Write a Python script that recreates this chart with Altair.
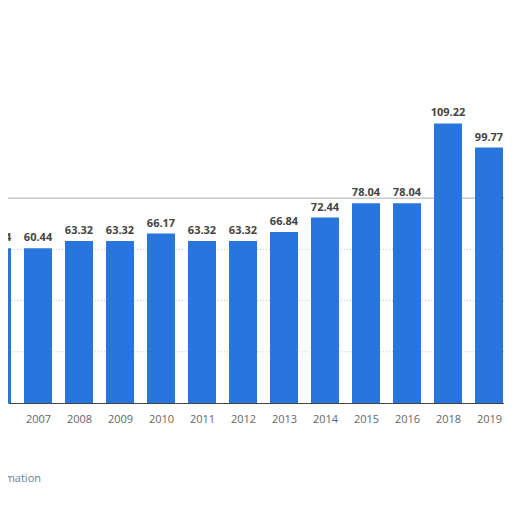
import altair as alt
import pandas as pd

years = ["2006", "2007", "2008", "2009", "2010", "2011", "2012",
         "2013", "2014", "2015", "2016", "2018", "2019"]
values = [60.44, 60.44, 63.32, 63.32, 66.17, 63.32, 63.32,
          66.84, 72.44, 78.04, 78.04, 109.22, 99.77]
grid_values = [20, 40, 60]
frame_value = [80]
footer = ["Additional Information"]

df = pd.DataFrame({
    "i": list(range(len(years))),
    "year": years,
    "v": values,
    "label": [f"{v:.2f}" for v in values],
})

label_expr = "[" + ",".join(f"'{y}'" for y in years) + "][datum.value]"

xscale = alt.Scale(domain=[0.268, 12.366], nice=False, zero=False, padding=0)
yscale = alt.Scale(domain=[0, 154.3], nice=False)

x_enc = alt.X(
    "i:Q", scale=xscale,
    axis=alt.Axis(values=list(range(len(years))), labelExpr=label_expr,
                  ticks=False, grid=False, domainColor="#444444", domainWidth=1,
                  labelFlush=False, labelOverlap=False, labelColor="#666666",
                  labelFont="Open Sans", labelFontSize=11,
                  labelBaseline="alphabetic", labelPadding=19, title=None),
)

base = alt.Chart(df)

grid = alt.Chart(pd.DataFrame({"g": grid_values})).mark_rule(
    color="#c4c4c4", strokeDash=[1, 2], strokeWidth=1
).encode(y=alt.Y("g:Q", scale=yscale, axis=None))

frame = alt.Chart(pd.DataFrame({"g": frame_value})).mark_rule(
    color="#c8c8c8", strokeWidth=1.5
).encode(y=alt.Y("g:Q", scale=yscale, axis=None))

bars = base.mark_bar(color="#2876dd", size=28, clip=True).encode(
    x=x_enc,
    y=alt.Y("v:Q", scale=yscale, axis=None),
)

labels = base.mark_text(
    dy=-7, baseline="alphabetic", font="Open Sans", fontWeight="bold",
    fontSize=11, color="#444444", clip=True
).encode(
    x=alt.X("i:Q", scale=xscale),
    y=alt.Y("v:Q", scale=yscale),
    text="label:N",
)

foot = alt.Chart(pd.DataFrame({"t": footer})).mark_text(
    align="right", baseline="alphabetic", font="Open Sans", fontSize=11,
    color="#5f7f99"
).encode(x=alt.value(33), y=alt.value(474), text="t:N")

chart = alt.layer(grid, frame, bars, labels, foot).properties(
    width=496, height=395,
    autosize=alt.AutoSizeParams(type="none"),
    padding={"left": 0, "top": 0, "right": 0, "bottom": 101},
).configure_view(stroke=None)

chart.save("out.html", embed_options={"renderer": "svg", "actions": False})
